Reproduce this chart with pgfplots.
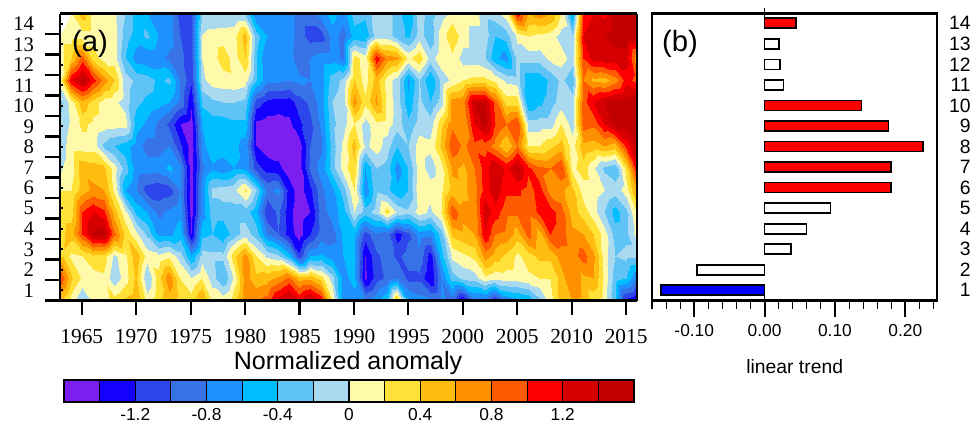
\documentclass[border=0pt]{standalone}
\usepackage{fontspec}
\setmainfont{Liberation Sans}
\newfontfamily\tms{Liberation Serif}
\usepackage{pgfplots}
\pgfplotsset{compat=1.18}
\pgfplotsset{colormap={anom}{rgb255=(125,30,240) rgb255=(20,0,255) rgb255=(45,70,235) rgb255=(55,115,230) rgb255=(30,145,255) rgb255=(0,190,255) rgb255=(95,195,245) rgb255=(170,218,240) rgb255=(255,250,170) rgb255=(255,225,55) rgb255=(255,190,15) rgb255=(255,145,0) rgb255=(255,90,0) rgb255=(255,0,0) rgb255=(215,0,0) rgb255=(195,0,0)}}
\definecolor{c1}{RGB}{125,30,240}\definecolor{c2}{RGB}{20,0,255}\definecolor{c3}{RGB}{45,70,235}\definecolor{c4}{RGB}{55,115,230}
\definecolor{c5}{RGB}{30,145,255}\definecolor{c6}{RGB}{0,190,255}\definecolor{c7}{RGB}{95,195,245}\definecolor{c8}{RGB}{170,218,240}
\definecolor{c9}{RGB}{255,250,170}\definecolor{c10}{RGB}{255,225,55}\definecolor{c11}{RGB}{255,190,15}\definecolor{c12}{RGB}{255,145,0}
\definecolor{c13}{RGB}{255,90,0}\definecolor{c14}{RGB}{255,0,0}\definecolor{c15}{RGB}{215,0,0}\definecolor{c16}{RGB}{195,0,0}
\begin{document}
\begin{tikzpicture}
\path[use as bounding box] (0pt,0pt) rectangle (732.75pt,318pt);
% panel a
\begin{axis}[name=a,at={(45pt,92.6pt)},anchor=south west,scale only axis,width=432.75pt,height=215.25pt,
 view={0}{90},xmin=1963,xmax=2016,ymin=0.5,ymax=14.5,axis on top=true,axis line style={line width=2.2pt},
 xtick={1965,1970,...,2015},xticklabels={1965,1970,1975,1980,1985,1990,1995,2000,2005,2010,2015},
 xtick pos=bottom,ytick pos=left,tick align=outside,major tick length=11pt,tick style={line width=1.6pt,black},
 ytick={0.5,...,13.5},yticklabels={},
 extra y ticks={1,...,14},extra y tick labels={1,2,3,4,5,6,7,8,9,10,11,12,13,14},
 extra y tick style={major tick length=2pt,tick align=inside,yticklabel style={font=\tms\fontsize{15.5pt}{16pt}\selectfont,anchor=east,xshift=-16pt}},
 xticklabel style={font=\tms\fontsize{16pt}{17pt}\selectfont,yshift=-7pt},
 colormap name=anom,colormap access=piecewise constant,point meta min=-1.6,point meta max=1.6]
\addplot3[surf,shader=interp,mesh/cols=54] table[header=false,row sep=\\,x expr={1963+mod(\coordindex,54)},y expr={0.5+floor(\coordindex/54)*14/13},z index=0] {
.4\\.1\\-.2\\.05\\.1\\.3\\.45\\.55\\.1\\.35\\.5\\.3\\.3\\.65\\.15\\.12\\.35\\.75\\.8\\.9\\1.3\\1.5\\1.2\\1.5\\1.2\\.2\\-.7\\-.65\\-.75\\-.65\\-.4\\.55\\-.55\\-.7\\-.75\\-.75\\-.9\\-1.45\\-.9\\-.9\\-1.25\\-.8\\-.7\\-.6\\-.3\\.1\\.5\\.6\\.55\\.25\\.1\\-.4\\-1.3\\-1.45\\
1.0\\.45\\.15\\.1\\.15\\-.15\\.1\\.45\\-.2\\.3\\.75\\.2\\0\\.2\\-.1\\-.4\\.05\\.7\\.45\\.5\\.65\\.85\\.5\\.55\\.3\\-.1\\-.65\\-.55\\-1.45\\-1.1\\-.95\\-.8\\-1.05\\-1.05\\-1.4\\-.8\\-.3\\-.15\\-.1\\.15\\.05\\.1\\.1\\.15\\.2\\.2\\.5\\.8\\.55\\.6\\.15\\-.3\\-.4\\-.8\\
.5\\.15\\.2\\.35\\.3\\-.05\\.15\\.55\\.1\\.05\\.15\\-.1\\-.6\\-.1\\-.15\\-.15\\.35\\.7\\.2\\-.05\\-.15\\-.5\\-1.15\\-.6\\-.55\\-.7\\-.6\\-.55\\-1.4\\-1.05\\-.9\\-1.05\\-.9\\-.85\\-1.3\\-.5\\.05\\.15\\.25\\.7\\.5\\.35\\.15\\.3\\.45\\.45\\.7\\.7\\.9\\.65\\.1\\-.2\\-.15\\-.15\\
.35\\.5\\1.0\\1.45\\1.5\\.85\\.35\\.05\\-.25\\-.65\\-.65\\-.5\\-1.4\\-.45\\-.4\\-.55\\-.3\\-.1\\-.3\\-.8\\-1.0\\-1.3\\-1.5\\-1.2\\-.9\\-.9\\-.55\\-.55\\-1.1\\-.85\\-.9\\-1.3\\-1.05\\-.7\\-.75\\-.3\\.45\\.55\\.6\\1.2\\.8\\.75\\.5\\.9\\.5\\1.0\\.9\\.65\\.6\\.4\\.1\\-.3\\-.25\\.1\\
.3\\.3\\1.0\\1.2\\1.05\\.5\\.05\\-.45\\-.6\\-.85\\-.75\\-.65\\-1.5\\-.7\\-.3\\-.3\\-.3\\-.3\\-.55\\-1.2\\-.95\\-1.35\\-1.5\\-1.4\\-.9\\-.7\\-.5\\0\\-.3\\-.1\\.3\\-.05\\-.15\\.1\\-.05\\.2\\.95\\.65\\.65\\1.35\\1.1\\.85\\.85\\.85\\1.05\\1.1\\.9\\.5\\.3\\.1\\-.2\\-.5\\-.25\\.25\\
.2\\.2\\.5\\.65\\.6\\.15\\-.6\\-.8\\-1.1\\-1.15\\-1.1\\-.8\\-1.5\\-.7\\-.15\\-.1\\-.05\\.25\\-.2\\-.85\\-.75\\-1.3\\-1.5\\-1.25\\-.85\\-.65\\-.3\\.2\\-.75\\-.25\\-.35\\-.55\\-.4\\.15\\.1\\.15\\.5\\.55\\.7\\1.1\\1.35\\1.05\\1.05\\.9\\1.1\\.7\\.65\\.45\\.1\\.1\\0\\-.1\\.1\\.7\\
.05\\.1\\.55\\.5\\.45\\.1\\-.3\\-.7\\-.7\\-.7\\-.55\\-.75\\-1.5\\-.85\\-.65\\-.75\\-.6\\-.65\\-1.1\\-1.3\\-1.35\\-1.5\\-1.5\\-.95\\-.7\\-.3\\.1\\.35\\-.6\\-.2\\-.3\\-.7\\-.4\\.1\\-.1\\.1\\.65\\.55\\.8\\1.1\\1.4\\1.15\\1.45\\1.05\\.85\\.8\\1.0\\.15\\.3\\.05\\-.25\\-.35\\.3\\1.2\\
-.1\\.1\\.1\\.1\\-.25\\-.4\\-.5\\-.7\\-.9\\-.9\\-.8\\-1.15\\-1.5\\-.7\\-.4\\-.45\\-.55\\-.7\\-1.4\\-1.5\\-1.5\\-1.5\\-1.5\\-1.0\\-.85\\-.3\\.05\\.5\\-.05\\.1\\-.1\\-.4\\-.2\\.1\\.05\\.45\\.95\\.75\\.95\\.9\\.7\\.4\\.8\\.2\\.2\\.35\\.5\\.1\\.55\\.5\\.6\\.5\\1.05\\1.5\\
-.1\\.05\\.25\\.15\\.1\\.1\\.1\\-.5\\-.65\\-.85\\-1.05\\-1.4\\-1.5\\-.6\\-.5\\-.5\\-.45\\-.45\\-1.45\\-1.5\\-1.5\\-1.45\\-1.25\\-1.05\\-.75\\-.25\\-.1\\.2\\-.1\\.15\\.1\\-.1\\-.35\\-.1\\-.1\\.35\\.75\\.6\\1.2\\1.5\\1.0\\.8\\1.0\\-.1\\-.1\\-.1\\.2\\-.1\\.9\\.85\\1.2\\1.5\\1.5\\1.5\\
-.25\\.1\\.55\\.3\\.1\\.05\\-.1\\-.35\\-.45\\-.5\\-.6\\-.85\\-1.35\\-.35\\-.25\\-.2\\-.2\\-.25\\-1.1\\-1.25\\-1.3\\-1.3\\-1.1\\-.95\\-.7\\-.2\\-.1\\.7\\.25\\.65\\.15\\-.1\\-.55\\-.15\\-.4\\-.1\\.7\\.75\\1.4\\1.4\\.9\\.3\\.3\\-.6\\-.45\\-.3\\-.1\\-.1\\.9\\1.2\\1.4\\1.5\\1.5\\1.5\\
.1\\1.2\\1.5\\1.1\\.7\\.4\\-.1\\-.25\\-.3\\-.45\\-.35\\-.8\\-1.15\\-.05\\.1\\.12\\.15\\.1\\-.4\\-.75\\-.75\\-.8\\-.75\\-.8\\-.7\\-.3\\-.15\\.4\\.1\\.5\\.1\\-.1\\-.65\\-.2\\-.6\\-.15\\.05\\.2\\.25\\.25\\.15\\-.05\\-.1\\-.55\\-.55\\-.35\\-.15\\-.35\\.8\\.55\\.5\\.7\\1.1\\.9\\
.1\\.4\\.9\\.3\\.1\\.1\\-.4\\-.7\\-.75\\-.75\\-.85\\-.95\\-1.1\\0\\.12\\.3\\.12\\.4\\-.4\\-.8\\-.7\\-.7\\-.95\\-.8\\-.7\\-.7\\-.85\\.3\\.1\\1.15\\.7\\.65\\.15\\.35\\-.1\\.15\\.15\\-.1\\-.1\\-.2\\-.55\\-.7\\-.1\\-.1\\-.1\\.05\\.1\\-.1\\1.0\\1.3\\1.35\\1.3\\1.3\\.6\\
.1\\.1\\.1\\.1\\.1\\.1\\-.3\\-.5\\-.35\\-.6\\-.7\\-1.0\\-1.1\\.02\\.1\\.12\\.15\\.5\\-.3\\-.6\\-.75\\-.7\\-.9\\-1.1\\-1.1\\-.7\\-.9\\-.5\\-.55\\-.1\\-.1\\-.3\\-.45\\-.1\\-.35\\.1\\.35\\.1\\-.1\\-.1\\-.4\\-.3\\.05\\.2\\.15\\.1\\-.1\\-.2\\1.2\\1.35\\1.4\\1.5\\1.5\\1.5\\
.05\\.15\\.5\\.1\\.1\\.05\\-.2\\-.5\\-.6\\-.7\\-.7\\-1.1\\-1.1\\-.2\\-.2\\-.2\\-.2\\-.2\\-.8\\-.8\\-.8\\-.7\\-.9\\-.9\\-.7\\-.5\\-.7\\-.3\\-.35\\-.1\\-.1\\-.3\\-.6\\-.1\\-.3\\-.1\\.1\\.1\\.1\\-.15\\-.1\\.1\\1.1\\.6\\.7\\.6\\.2\\-.6\\1.05\\1.2\\1.15\\1.5\\1.5\\1.5\\
};
\end{axis}
% panel b
\begin{axis}[at={(489pt,92.6pt)},anchor=south west,scale only axis,width=213.75pt,height=215.6pt,
 xmin=-0.16,xmax=0.245,ymin=0.5,ymax=14.5,axis line style={line width=2.2pt},
 xbar,bar shift=0pt,bar width=7.5pt,
 xtick={-0.1,0,0.1,0.2},minor xtick={-0.16,-0.14,-0.12,-0.08,-0.06,-0.04,-0.02,0.02,0.04,0.06,0.08,0.12,0.14,0.16,0.18,0.22,0.24},
 xtick pos=bottom,ytick pos=right,tick align=outside,major tick length=12pt,minor tick length=6pt,
 tick style={line width=1.4pt,black},minor tick style={line width=.8pt,black},
 ytick={1,...,14},yticklabels={1,2,3,4,5,6,7,8,9,10,11,12,13,14},
 y tick style={draw=none},
 yticklabel style={font=\fontsize{14.5pt}{15pt}\selectfont,anchor=east,xshift=16.75pt},
 xticklabel style={font=\fontsize{13pt}{15pt}\selectfont,yshift=-2pt},
 /pgf/number format/assume math mode=true,/pgf/number format/fixed,/pgf/number format/fixed zerofill,/pgf/number format/precision=2,
 clip=false]
\addplot[fill=red,draw=black,line width=1.3pt] coordinates {(0.045,14)(0.1375,10)(0.176,9)(0.225,8)(0.18,7)(0.18,6)};
\addplot[fill=white,draw=black,line width=1.3pt] coordinates {(0.020,13)(0.022,12)(0.027,11)(0.0935,5)(0.0595,4)(0.037,3)(-0.0965,2)};
\addplot[fill=blue,draw=black,line width=1.3pt] coordinates {(-0.147,1)};
\addplot[black,line width=.6pt] coordinates {(0,0.5)(0,14.5)};
\end{axis}
% colour bar
\begin{axis}[at={(48pt,16.5pt)},anchor=south west,scale only axis,width=427.5pt,height=16.5pt,
 xmin=-1.6,xmax=1.6,ymin=0,ymax=1,ytick=\empty,axis line style={line width=1pt},
 xtick={-1.2,-0.8,-0.4,0,0.4,0.8,1.2},xticklabels={-1.2,-0.8,-0.4,0,0.4,0.8,1.2},major tick length=0pt,
 xticklabel style={font=\fontsize{13pt}{15pt}\selectfont,yshift=-1pt}]
\addplot[fill=c1,draw=black,line width=.8pt] coordinates {(-1.6,0)(-1.4,0)(-1.4,1)(-1.6,1)} --cycle;
\addplot[fill=c2,draw=black,line width=.8pt] coordinates {(-1.4,0)(-1.2,0)(-1.2,1)(-1.4,1)} --cycle;
\addplot[fill=c3,draw=black,line width=.8pt] coordinates {(-1.2,0)(-1.0,0)(-1.0,1)(-1.2,1)} --cycle;
\addplot[fill=c4,draw=black,line width=.8pt] coordinates {(-1.0,0)(-0.8,0)(-0.8,1)(-1.0,1)} --cycle;
\addplot[fill=c5,draw=black,line width=.8pt] coordinates {(-0.8,0)(-0.6,0)(-0.6,1)(-0.8,1)} --cycle;
\addplot[fill=c6,draw=black,line width=.8pt] coordinates {(-0.6,0)(-0.4,0)(-0.4,1)(-0.6,1)} --cycle;
\addplot[fill=c7,draw=black,line width=.8pt] coordinates {(-0.4,0)(-0.2,0)(-0.2,1)(-0.4,1)} --cycle;
\addplot[fill=c8,draw=black,line width=.8pt] coordinates {(-0.2,0)(0,0)(0,1)(-0.2,1)} --cycle;
\addplot[fill=c9,draw=black,line width=.8pt] coordinates {(0,0)(0.2,0)(0.2,1)(0,1)} --cycle;
\addplot[fill=c10,draw=black,line width=.8pt] coordinates {(0.2,0)(0.4,0)(0.4,1)(0.2,1)} --cycle;
\addplot[fill=c11,draw=black,line width=.8pt] coordinates {(0.4,0)(0.6,0)(0.6,1)(0.4,1)} --cycle;
\addplot[fill=c12,draw=black,line width=.8pt] coordinates {(0.6,0)(0.8,0)(0.8,1)(0.6,1)} --cycle;
\addplot[fill=c13,draw=black,line width=.8pt] coordinates {(0.8,0)(1.0,0)(1.0,1)(0.8,1)} --cycle;
\addplot[fill=c14,draw=black,line width=.8pt] coordinates {(1.0,0)(1.2,0)(1.2,1)(1.0,1)} --cycle;
\addplot[fill=c15,draw=black,line width=.8pt] coordinates {(1.2,0)(1.4,0)(1.4,1)(1.2,1)} --cycle;
\addplot[fill=c16,draw=black,line width=.8pt] coordinates {(1.4,0)(1.6,0)(1.6,1)(1.4,1)} --cycle;
\end{axis}
\node[inner sep=0pt,font=\fontsize{18.8pt}{20pt}\selectfont] at (261pt,45.5pt) {Normalized anomaly};
\node[inner sep=0pt,font=\fontsize{22pt}{24pt}\selectfont] at (67.5pt,285pt) {(a)};
\node[inner sep=0pt,font=\fontsize{22pt}{24pt}\selectfont] at (510pt,285pt) {(b)};
\node[inner sep=0pt,font=\fontsize{14.5pt}{16pt}\selectfont] at (596pt,43pt) {linear trend};
\end{tikzpicture}
\end{document}
